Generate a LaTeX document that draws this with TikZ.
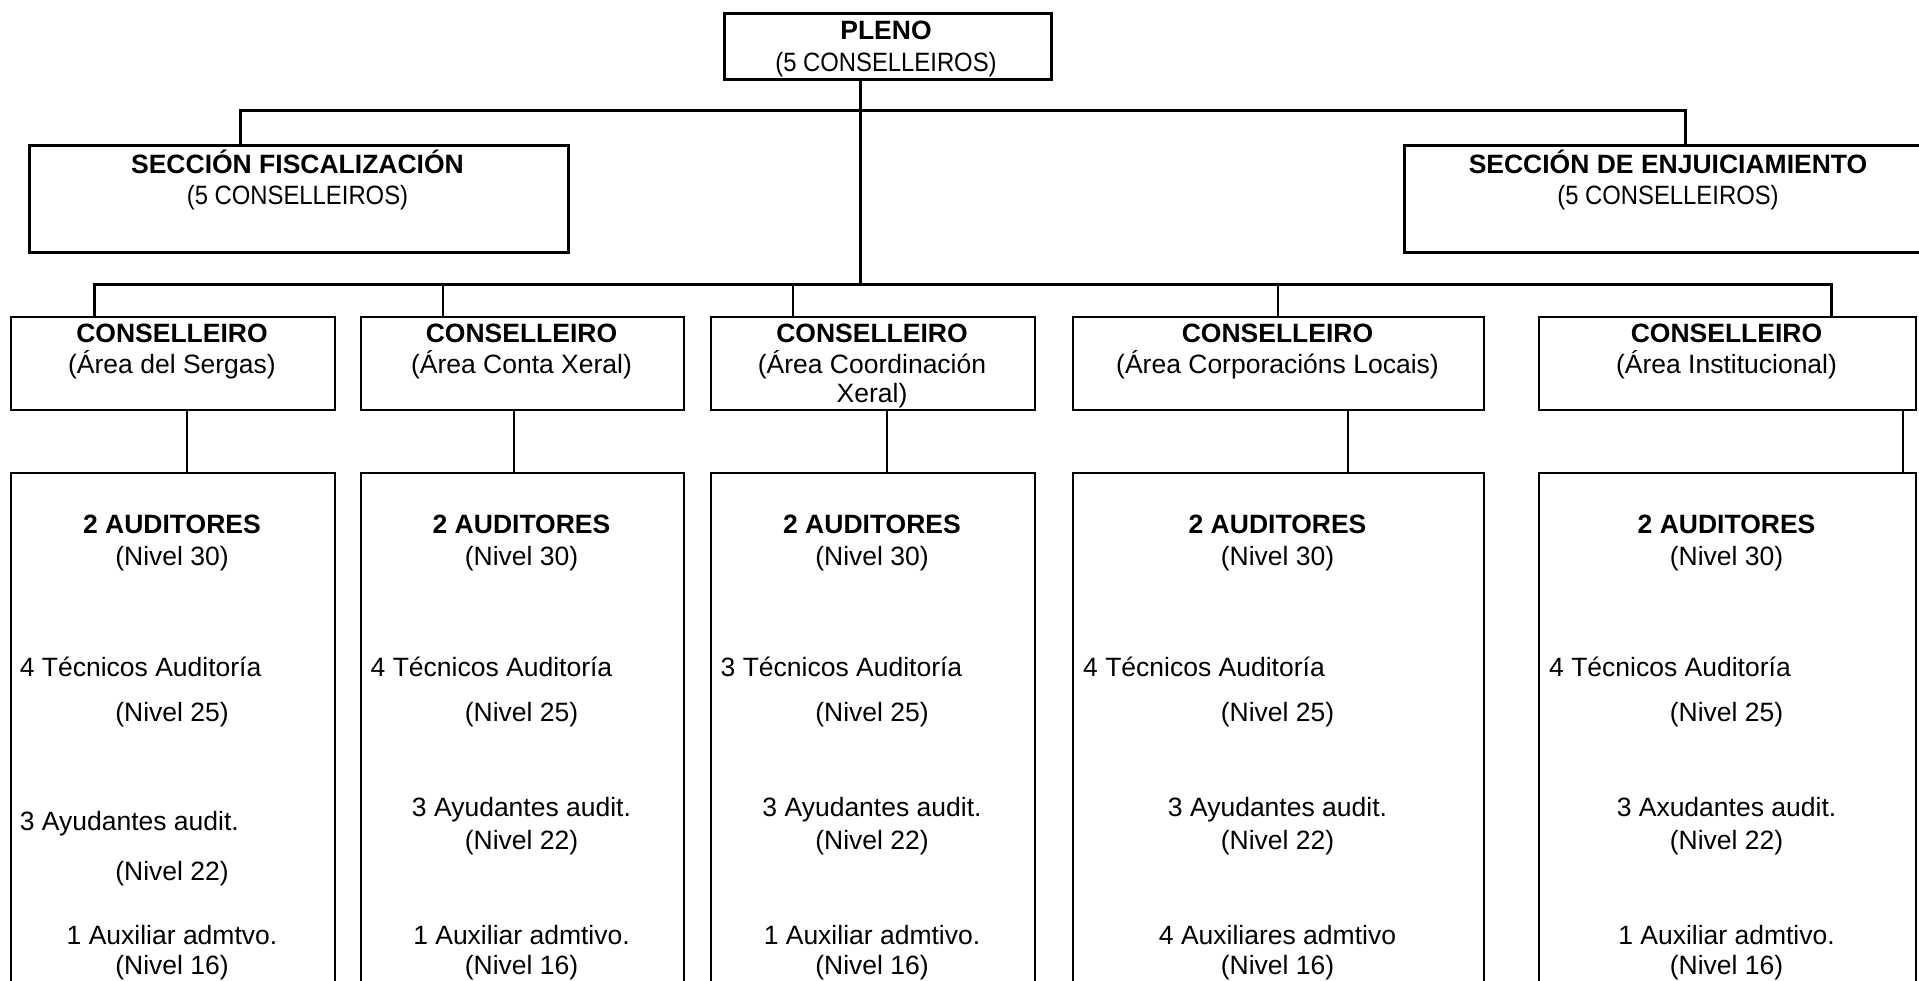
\documentclass[tikz,border=0pt]{standalone}
\usepackage{fontspec}
\setmainfont{Liberation Sans}
\newcommand{\narrowtxt}[1]{\scalebox{0.9}[1]{#1}}
\begin{document}
\begin{tikzpicture}[x=1pt,y=-1pt,
  orgbox/.style={draw,line width=2.2pt,inner sep=0pt,anchor=north west},
  topbox/.style={orgbox,line width=3pt},
  conn/.style={line width=2pt},
  bus/.style={line width=3pt},
  txt/.style={inner sep=0pt,font=\fontsize{26.5}{30.5}\selectfont},
  txtb/.style={inner sep=0pt,font=\fontsize{26.5}{30.5}\selectfont\bfseries},
  txtc/.style={inner sep=0pt,font=\fontsize{26.5}{30}\selectfont},
  txtl/.style={txt,anchor=west}]
\useasboundingbox (0,0) rectangle (1919,980);
\clip (0,0) rectangle (1919,980);

% top level boxes
\node[topbox,minimum width=327pt,minimum height=66pt] (pleno) at (723,12) {};
\node[txtb] (plenoA) at (886,30.6) {PLENO};
\node[txtc] (plenoB) at (886,65) {\narrowtxt{(5 CONSELLEIROS)}};

\node[topbox,minimum width=539pt,minimum height=107pt] (fisc) at (28,144) {};
\node[txtb] (fiscA) at (297.5,161.5) {SECCIÓN FISCALIZACIÓN};
\node[txtc] (fiscB) at (297.5,197.5) {\narrowtxt{(5 CONSELLEIROS)}};

\node[topbox,minimum width=530pt,minimum height=107pt] (enj) at (1403,144) {};
\node[txtb] (enjA) at (1668,161.5) {SECCIÓN DE ENJUICIAMIENTO};
\node[txtc] (enjB) at (1668,197.5) {\narrowtxt{(5 CONSELLEIROS)}};

% conselleiro boxes
\node[orgbox,minimum width=324pt,minimum height=93pt] (c1) at (10,316) {};
\node[orgbox,minimum width=323pt,minimum height=93pt] (c2) at (360,316) {};
\node[orgbox,minimum width=324pt,minimum height=93pt] (c3) at (710,316) {};
\node[orgbox,minimum width=411pt,minimum height=93pt] (c4) at (1072,316) {};
\node[orgbox,minimum width=377pt,minimum height=93pt] (c5) at (1538,316) {};

\node[txtb] (c1a) at (172,333) {CONSELLEIRO};
\node[txt] (c1b) at (172,365) {(Área del Sergas)};
\node[txtb] (c2a) at (521.5,333) {CONSELLEIRO};
\node[txt] (c2b) at (521.5,365) {(Área Conta Xeral)};
\node[txtb] (c3a) at (872,333) {CONSELLEIRO};
\node[txt] (c3b) at (872,365) {(Área Coordinación};
\node[txt] (c3c) at (872,396) {Xeral)};
\node[txtb] (c4a) at (1277.5,333) {CONSELLEIRO};
\node[txt] (c4b) at (1277.5,365) {(Área Corporacións Locais)};
\node[txtb] (c5a) at (1726.5,333) {CONSELLEIRO};
\node[txt] (c5b) at (1726.5,365) {(Área Institucional)};

% lower boxes
\node[orgbox,minimum width=324pt,minimum height=600pt] (l1) at (10,472) {};
\node[orgbox,minimum width=323pt,minimum height=600pt] (l2) at (360,472) {};
\node[orgbox,minimum width=324pt,minimum height=600pt] (l3) at (710,472) {};
\node[orgbox,minimum width=411pt,minimum height=600pt] (l4) at (1072,472) {};
\node[orgbox,minimum width=377pt,minimum height=600pt] (l5) at (1538,472) {};

% box 1 texts
\node[txtb] (l1a) at (172,524) {2 AUDITORES};
\node[txt] (l1b) at (172,559) {(Nivel 30)};
\node[txtl] (l1c) at (19.6,667) {4 Técnicos Auditoría};
\node[txt] (l1d) at (172,715) {(Nivel 25)};
\node[txtl] (l1e) at (19.6,824) {3 Ayudantes audit.};
\node[txt] (l1f) at (172,874) {(Nivel 22)};
\node[txt] (l1g) at (172,935) {1 Auxiliar admtvo.};
\node[txt] (l1h) at (172,968) {(Nivel 16)};

% box 2 texts
\node[txtb] (l2a) at (521.5,524) {2 AUDITORES};
\node[txt] (l2b) at (521.5,559) {(Nivel 30)};
\node[txtl] (l2c) at (370.5,667) {4 Técnicos Auditoría};
\node[txt] (l2d) at (521.5,715) {(Nivel 25)};
\node[txt] (l2e) at (521.5,810) {3 Ayudantes audit.};
\node[txt] (l2f) at (521.5,843) {(Nivel 22)};
\node[txt] (l2g) at (521.5,935) {1 Auxiliar admtivo.};
\node[txt] (l2h) at (521.5,968) {(Nivel 16)};

% box 3 texts
\node[txtb] (l3a) at (872,524) {2 AUDITORES};
\node[txt] (l3b) at (872,559) {(Nivel 30)};
\node[txtl] (l3c) at (720.5,667) {3 Técnicos Auditoría};
\node[txt] (l3d) at (872,715) {(Nivel 25)};
\node[txt] (l3e) at (872,810) {3 Ayudantes audit.};
\node[txt] (l3f) at (872,843) {(Nivel 22)};
\node[txt] (l3g) at (872,935) {1 Auxiliar admtivo.};
\node[txt] (l3h) at (872,968) {(Nivel 16)};

% box 4 texts
\node[txtb] (l4a) at (1277.5,524) {2 AUDITORES};
\node[txt] (l4b) at (1277.5,559) {(Nivel 30)};
\node[txtl] (l4c) at (1083,667) {4 Técnicos Auditoría};
\node[txt] (l4d) at (1277.5,715) {(Nivel 25)};
\node[txt] (l4e) at (1277.5,810) {3 Ayudantes audit.};
\node[txt] (l4f) at (1277.5,843) {(Nivel 22)};
\node[txt] (l4g) at (1277.5,935) {4 Auxiliares admtivo};
\node[txt] (l4h) at (1277.5,968) {(Nivel 16)};

% box 5 texts
\node[txtb] (l5a) at (1726.5,524) {2 AUDITORES};
\node[txt] (l5b) at (1726.5,559) {(Nivel 30)};
\node[txtl] (l5c) at (1549,667) {4 Técnicos Auditoría};
\node[txt] (l5d) at (1726.5,715) {(Nivel 25)};
\node[txt] (l5e) at (1726.5,807.5) {3 Axudantes audit.};
\node[txt] (l5f) at (1726.5,843) {(Nivel 22)};
\node[txt] (l5g) at (1726.5,935) {1 Auxiliar admtivo.};
\node[txt] (l5h) at (1726.5,968) {(Nivel 16)};

% connector coordinates
\coordinate (b1) at (240,110);
\coordinate (b2) at (1685,110);
\coordinate (sm) at (860,284);
\coordinate (d1) at (94,284);
\coordinate (d2) at (443,284);
\coordinate (d3) at (793,284);
\coordinate (d4) at (1278,284);
\coordinate (d5) at (1831,284);
\coordinate (e1) at (187,440);
\coordinate (e2) at (514,440);
\coordinate (e3) at (887,440);
\coordinate (e4) at (1348,440);
\coordinate (e5) at (1903,440);

% connectors
\draw[bus] (fisc.north -| b1) -- (b1) -- (b2) -- (enj.north -| b2);
\draw[bus] (pleno.south -| sm) -- (sm);
\draw[bus] (c1.north -| d1) -- (d1) -- (d5) -- (c5.north -| d5);
\draw[conn] (d2) -- (c2.north -| d2);
\draw[conn] (d3) -- (c3.north -| d3);
\draw[conn] (d4) -- (c4.north -| d4);
\draw[conn] (c1.south -| e1) -- (l1.north -| e1);
\draw[conn] (c2.south -| e2) -- (l2.north -| e2);
\draw[conn] (c3.south -| e3) -- (l3.north -| e3);
\draw[conn] (c4.south -| e4) -- (l4.north -| e4);
\draw[conn] (c5.south -| e5) -- (l5.north -| e5);
\end{tikzpicture}
\end{document}
